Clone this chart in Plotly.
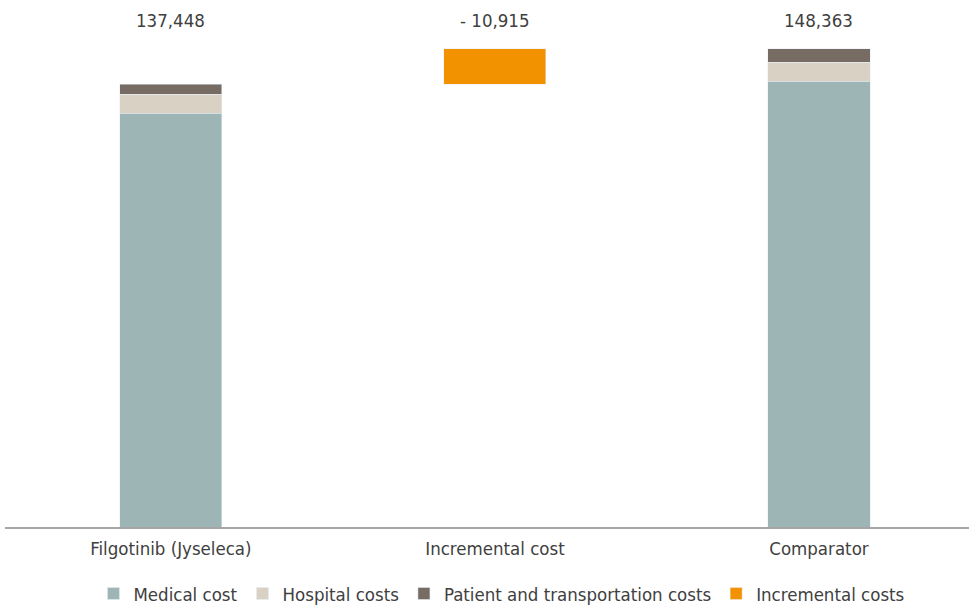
import plotly.graph_objects as go

categories = ["Filgotinib (Jyseleca)", "Incremental cost", "Comparator"]
medical = [128400, None, 138400]
hospital = [5950, None, 5900]
patient = [3098, None, 4063]
totals = [137448, 148363]
incremental = 10915
total_labels = ["137,448", "- 10,915", "148,363"]

FONT = "DejaVu Sans Condensed"
TXT = "#404040"
FS = 18.5

fig = go.Figure()
fig.add_bar(x=categories, y=medical, name="Medical cost", marker_color="#9DB5B4", width=0.315)
fig.add_bar(x=categories, y=hospital, name="Hospital costs", marker_color="#D9D1C4", width=0.315)
fig.add_bar(x=categories, y=patient, name="Patient and transportation costs", marker_color="#776C63", width=0.315)
fig.add_bar(x=[categories[1]], y=[incremental], base=[totals[0]], name="Incremental costs",
            marker_color="#F39200", width=0.315)

ymax = 487 * 310.35
for c, t in zip(categories, total_labels):
    fig.add_annotation(x=c, y=1 + (40 - 20) / 487, yref="paper", yanchor="middle",
                       text=t, showarrow=False,
                       font=dict(family=FONT, size=FS, color=TXT))

fig.update_layout(
    barmode="stack",
    width=969, height=605,
    margin=dict(l=5, r=0, t=40, b=78),
    plot_bgcolor="white", paper_bgcolor="white",
    font=dict(family=FONT, size=FS, color=TXT),
    showlegend=True,
    legend=dict(orientation="h", traceorder="normal", x=0.515, xanchor="center",
                yref="container", y=11 / 605, yanchor="middle",
                font=dict(family=FONT, size=FS, color=TXT), itemwidth=30),
    xaxis=dict(range=[-0.512, 2.463], showline=True, linecolor="#A6A6A6", linewidth=2,
               ticks="", ticklabelstandoff=4, tickfont=dict(family=FONT, size=FS, color=TXT)),
    yaxis=dict(range=[0, ymax], visible=False, showgrid=False),
)
fig.write_html("out.html")
